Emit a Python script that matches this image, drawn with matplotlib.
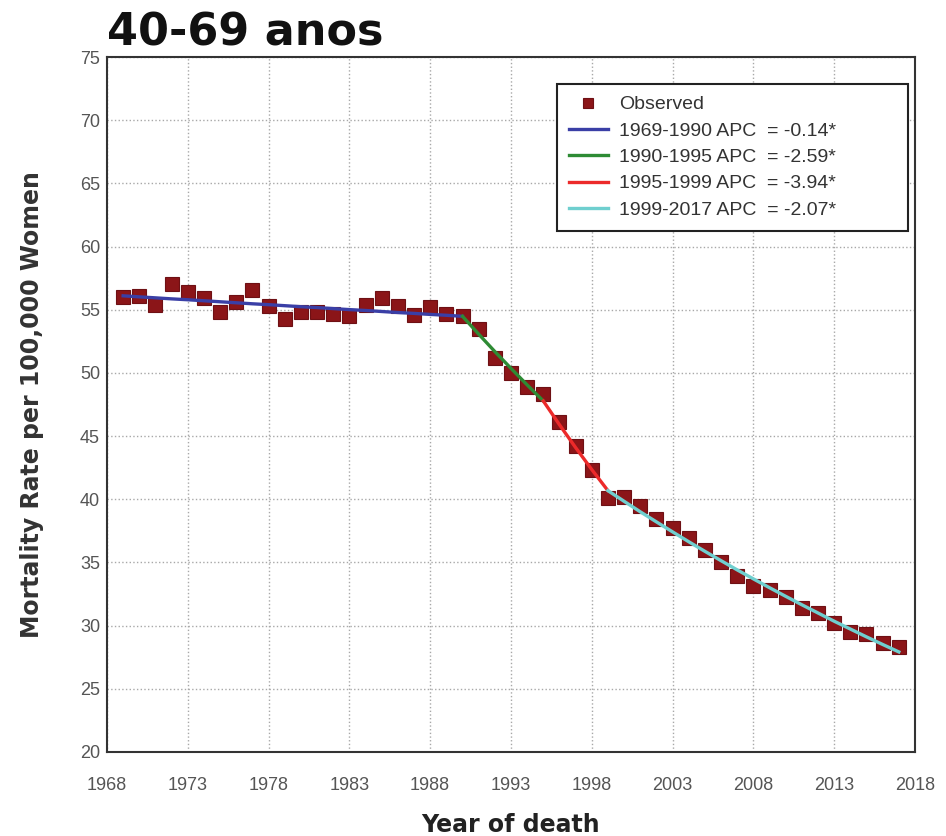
import matplotlib
matplotlib.use("Agg")
import matplotlib.pyplot as plt
import numpy as np

# datos observados (tasa por 100.000 mujeres, 40-69 anos)
anos = list(range(1969, 2018))
observado = [56.0, 56.1, 55.4, 57.0, 56.4, 55.9, 54.8, 55.6, 56.6, 55.3,
             54.3, 54.8, 54.8, 54.7, 54.5, 55.4, 55.9, 55.3, 54.6, 55.2,
             54.7, 54.5, 53.5, 51.2, 50.0, 48.9, 48.3, 46.1, 44.2, 42.3,
             40.1, 40.2, 39.5, 38.4, 37.7, 36.9, 36.0, 35.0, 33.9, 33.1,
             32.8, 32.3, 31.4, 31.0, 30.2, 29.5, 29.3, 28.6, 28.3]

# segmentos del modelo joinpoint
seg1_anos = list(range(1969, 1991))
seg1_vals = [56.10, 56.02, 55.94, 55.86, 55.79, 55.71, 55.63, 55.55, 55.47, 55.40, 55.32,
             55.24, 55.17, 55.09, 55.01, 54.94, 54.86, 54.78, 54.71, 54.63, 54.56, 54.48]
seg2_anos = list(range(1990, 1996))
seg2_vals = [54.48, 53.07, 51.69, 50.36, 49.05, 47.78]
seg3_anos = list(range(1995, 2000))
seg3_vals = [47.78, 45.90, 44.09, 42.35, 40.68]
seg4_anos = list(range(1999, 2018))
seg4_vals = [40.68, 39.84, 39.01, 38.21, 37.42, 36.64, 35.88, 35.14, 34.41, 33.70,
             33.00, 32.32, 31.65, 31.00, 30.35, 29.73, 29.11, 28.51, 27.92]

etiquetas = ["1969-1990 APC  = -0.14*", "1990-1995 APC  = -2.59*",
             "1995-1999 APC  = -3.94*", "1999-2017 APC  = -2.07*"]
colores = ["#3a3fa6", "#2e8b34", "#ec2a2a", "#6fcfcf"]

fuente_ticks = ["Liberation Sans", "DejaVu Sans"]

fig = plt.figure(figsize=(9.46, 8.36), dpi=100)
ax = fig.add_axes([0.1131, 0.1005, 0.8541, 0.8313])

ax.plot(anos, observado, linestyle="none", marker="s", markersize=10,
        color="#8b1518", markeredgecolor="#6e1014", markeredgewidth=0.8,
        label="Observed", zorder=2)

segmentos = [(seg1_anos, seg1_vals), (seg2_anos, seg2_vals),
             (seg3_anos, seg3_vals), (seg4_anos, seg4_vals)]
for (xs, ys), col, lab in zip(segmentos, colores, etiquetas):
    ax.plot(xs, ys, color=col, lw=2.4, label=lab, zorder=3)

ax.set_xlim(1968, 2018)
ax.set_ylim(20, 75)
ax.set_xticks(np.arange(1968, 2019, 5))
ax.set_yticks(np.arange(20, 76, 5))
ax.grid(True, linestyle=":", color="#a8a8a8", lw=1)
ax.tick_params(length=0, labelsize=13, labelcolor="#555555")
ax.tick_params(axis="x", pad=18)
ax.tick_params(axis="y", pad=5)
for lbl in ax.get_xticklabels() + ax.get_yticklabels():
    lbl.set_family(fuente_ticks)
for s in ax.spines.values():
    s.set_color("#333333")
    s.set_linewidth(1.5)

ax.set_xlabel("Year of death", fontsize=17, fontweight="bold", color="#222222")
ax.xaxis.set_label_coords(0.5, -(813 - 752) / 695)
ax.set_ylabel("Mortality Rate per 100,000 Women", fontsize=17, fontweight="bold",
              color="#333333")
ax.yaxis.set_label_coords(-(107 - 44) / 808, 0.5)

# leyenda: caja ancha como en el original, texto alineado a la izquierda
leg = ax.legend(loc="upper left", bbox_to_anchor=(0.557, 0.744, 0.434, 0.217),
                mode="expand", borderaxespad=0,
                fancybox=False, framealpha=1, edgecolor="#222222",
                prop={"family": fuente_ticks, "size": 14},
                handlelength=2.0, handletextpad=0.6, labelspacing=0.45,
                borderpad=0.6, markerscale=0.65)
leg.get_frame().set_linewidth(1.5)
for t in leg.get_texts():
    t.set_color("#333333")

fig.text(0.113, 1 - 45 / 836, "40-69 anos", fontsize=32, fontweight="bold",
         color="#111111", va="baseline")

fig.savefig("out.png", dpi=100)
